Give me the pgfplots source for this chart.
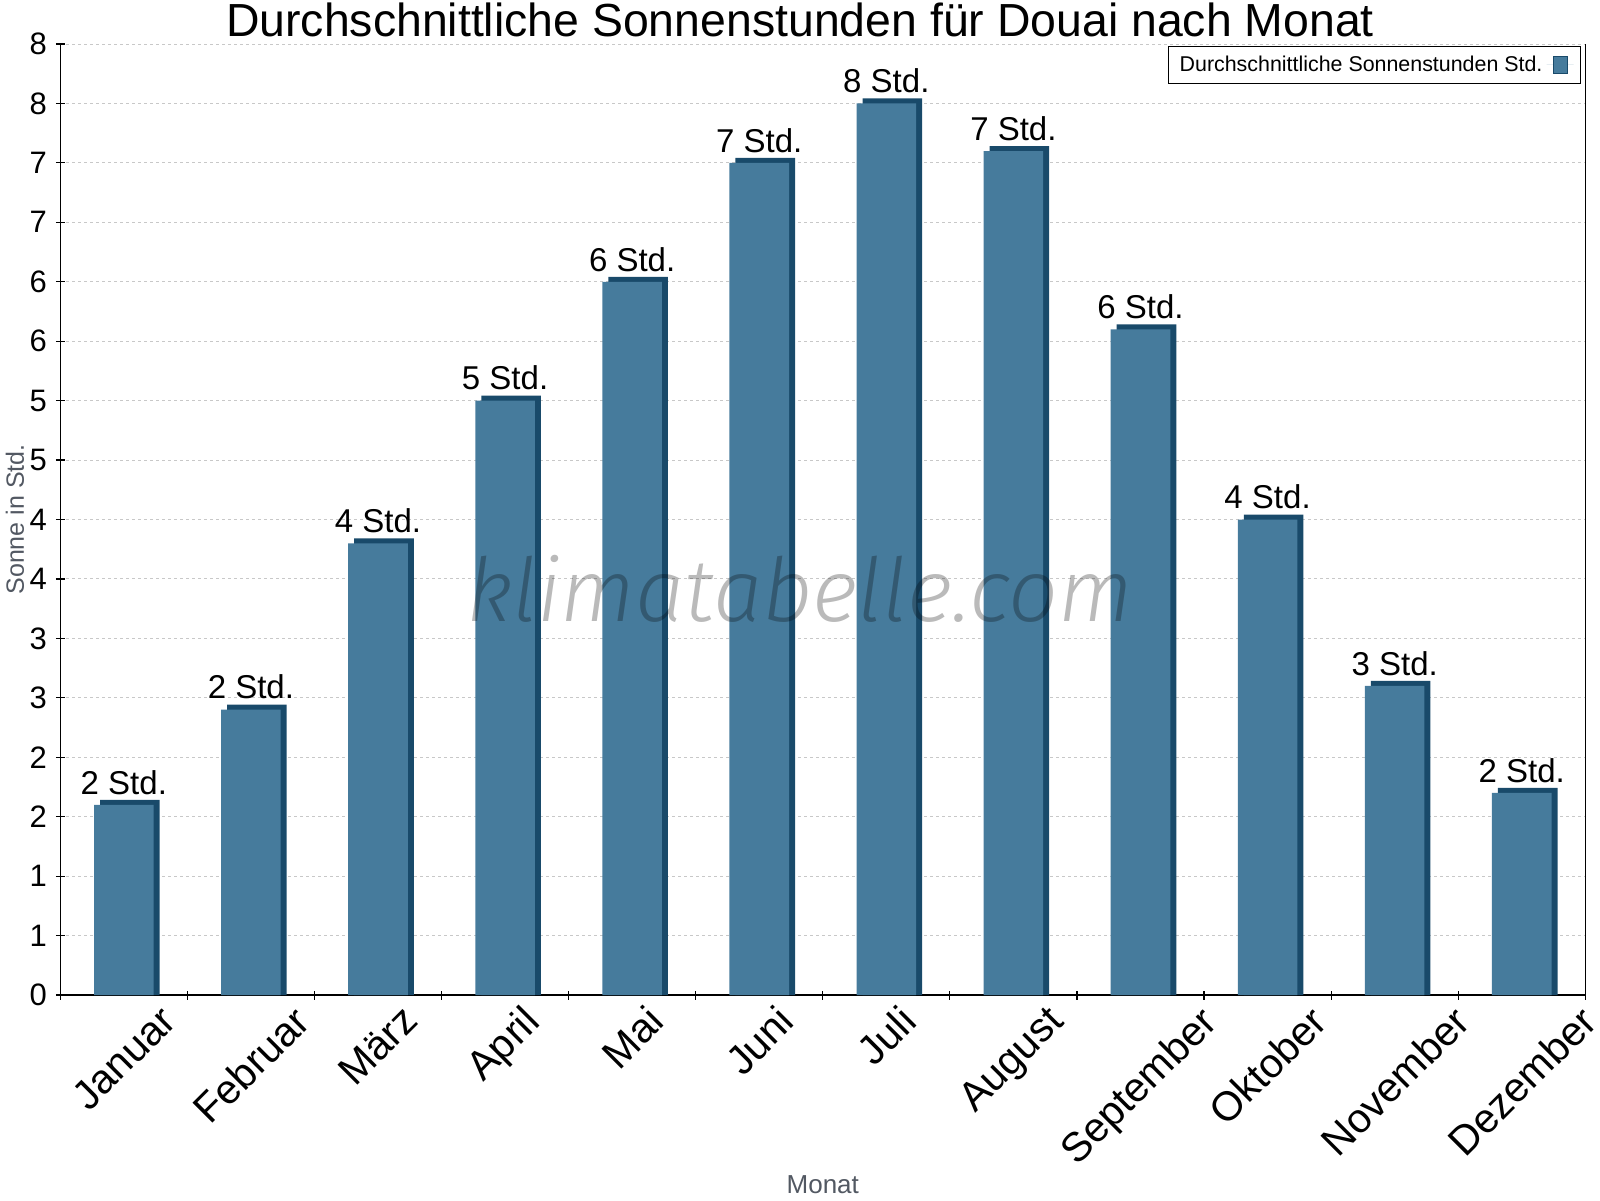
\documentclass[border=0pt]{standalone}
\usepackage{graphicx}
\usepackage{pgfplots}
\pgfplotsset{compat=1.18}
\usepackage{pgfplotstable}
\usepackage{fontspec}
\setmainfont{Liberation Sans}
\newfontfamily\wmfont{Fira Sans Light Italic}

\definecolor{barfront}{RGB}{70,123,156}
\definecolor{barside}{RGB}{25,74,106}
\definecolor{gridgray}{RGB}{200,200,200}
\definecolor{labelgray}{RGB}{82,88,98}

\newcommand\rl[1]{\rotatebox{45}{#1}}

% Sonnenstunden pro Tag, Douai
\pgfplotstableread[col sep=comma]{
x,v,lab
0,1.6,2 Std.
1,2.4,2 Std.
2,3.8,4 Std.
3,5.0,5 Std.
4,6.0,6 Std.
5,7.0,7 Std.
6,7.5,8 Std.
7,7.1,7 Std.
8,5.6,6 Std.
9,4.0,4 Std.
10,2.6,3 Std.
11,1.7,2 Std.
}\sonne

\begin{document}
\begin{tikzpicture}
\useasboundingbox (0,0) rectangle (800pt,600pt);
\begin{axis}[
  at={(30.15pt,102.5pt)}, anchor=south west,
  scale only axis,
  width=762.5pt, height=475.5pt,
  xmin=-0.5, xmax=11.5,
  ymin=0, ymax=8,
  axis x line*=bottom,
  axis y line*=box,
  axis line style={-, line width=0.6pt, black},
  xtick pos=bottom, ytick pos=left,
  tick align=center,
  major tick length=4.5pt,
  tick style={black, line width=0.6pt},
  xtick={-0.5,0.5,...,11.5},
  xticklabels={},
  extra x ticks={0,1,...,11},
  extra x tick labels={\rl{Januar},\rl{Februar},\rl{März},\rl{April},\rl{Mai},\rl{Juni},\rl{Juli},\rl{August},\rl{September},\rl{Oktober},\rl{November},\rl{Dezember}},
  extra x tick style={grid=none, major tick length=0pt},
  xticklabel style={font=\fontsize{20.5}{24}\selectfont, inner sep=0pt, anchor=north, yshift=-4pt},
  ytick={0,0.5,...,8},
  yticklabels={0,1,1,2,2,3,3,4,4,5,5,6,6,7,7,8,8},
  yticklabel style={font=\fontsize{15.5}{18}\selectfont, inner sep=0pt, anchor=east, xshift=-4.3pt},
  ymajorgrids,
  grid style={gridgray, line width=0.5pt, dash pattern=on 1.3pt off 1.7pt},
  ylabel={Sonne in Std.},
  every axis y label/.style={at={(axis description cs:-0.0297,0.5)}, rotate=90, anchor=center,
    font=\fontsize{12.5}{15}\selectfont, text=labelgray},
  xlabel={Monat},
  every axis x label/.style={at={(axis description cs:0.5,-0.2082)}, anchor=base,
    font=\fontsize{13}{15}\selectfont, text=labelgray},
  legend style={at={(1,1)}, anchor=north east, xshift=-2.15pt, yshift=-0.8pt,
    draw=black, line width=0.5pt, fill=white,
    font=\fontsize{10.7}{12.8}\selectfont, inner xsep=3.5pt, inner ysep=2.8pt,
    /tikz/every even column/.append style={column sep=0pt},
    /tikz/every odd column/.append style={column sep=0pt}},
  legend plot pos=right,
  legend image code/.code={\path (-3.5pt,0) -- (10pt,0);
    \draw[fill=barfront, draw=barside, line width=0.6pt] (0pt,-4.4pt) rectangle (7pt,4.4pt);},
  clip=false,
]
% dunkle Seite und Deckel der Balken
\addplot[ybar, bar width=29.8pt, bar shift=3pt, fill=barside, draw=none, forget plot]
  table[x=x, y expr=\thisrow{v}+0.042]{\sonne};
% Vorderseite
\addplot[ybar, bar width=29.8pt, bar shift=0pt, fill=barfront, draw=none,
  nodes near coords, point meta=explicit symbolic,
  every node near coord/.append style={font=\fontsize{16.5}{19}\selectfont, text=black, inner sep=0pt, yshift=5pt}]
  table[x=x, y=v, meta=lab]{\sonne};
\addlegendentry{Durchschnittliche Sonnenstunden Std.}
\end{axis}
\node[anchor=base, font=\fontsize{23.2}{27}\selectfont] at (400pt,581.5pt)
  {Durchschnittliche Sonnenstunden für Douai nach Monat};
\node[anchor=base, font=\fontsize{44}{50}\selectfont\wmfont, text=black, text opacity=0.27]
  at (400pt,289pt) {klimatabelle.com};
\end{tikzpicture}
\end{document}
